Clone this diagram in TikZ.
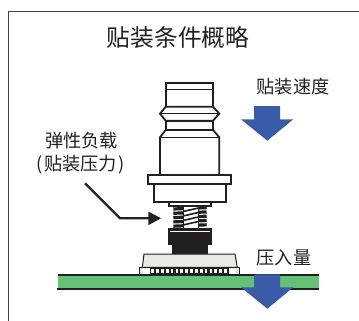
\documentclass[tikz,border=0pt]{standalone}
\usepackage{fontspec}
\newfontfamily\cjk{Noto Sans CJK SC}
\definecolor{pcbgreen}{HTML}{65C177}
\definecolor{bluearrow}{HTML}{3A5CA8}
\definecolor{chipgray}{HTML}{E8E9E3}
\definecolor{inkk}{HTML}{231F20}
\tikzset{
  lbl/.style={inner sep=0pt,text=inkk,font=\cjk\fontsize{18.2}{20}\selectfont},
  ttl/.style={inner sep=0pt,text=inkk,font=\cjk\fontsize{23.7}{26}\selectfont},
  noz/.style={draw=inkk,line width=1.8pt,fill=white,line join=miter},
  bluearr/.style={fill=bluearrow,draw=none},
  blk/.style={fill=inkk,draw=none},
}
\begin{document}
\begin{tikzpicture}[x=1pt,y=-1pt]
\useasboundingbox (0,0) rectangle (359,321);
% frame
\draw[line width=1.2pt,draw=inkk!85] (359,11.5) -- (8.3,11.5) -- (8.3,321);
% texts
\node[ttl] (title) at (178,38) {贴装条件概略};
\node[lbl] (speed) at (293,87) {贴装速度};
\node[lbl] (depth) at (284,258) {压入量};
\node[lbl] (load1) at (81.5,141) {弹性负载};
\node[lbl] (load2) at (80.5,165) {(\kern1.5pt 贴装压力\kern1.5pt )};
% pcb
\fill[pcbgreen] (58,275) rectangle (319,289);
\draw[line width=1.6pt,draw=inkk] (58,275) -- (319,275);
\draw[line width=1.4pt,draw=inkk] (57,289) -- (319,289);
% blue arrows
\fill[bluearr] (254,106) -- (280,106) -- (280,119.3) -- (293.3,119.3) -- (267.3,140.7) -- (241,119.3) -- (254,119.3) -- cycle;
\fill[bluearr] (254,274.3) -- (280,274.3) -- (280,287.3) -- (293.3,287.3) -- (267.3,308.7) -- (241,287.3) -- (254,287.3) -- cycle;
% nozzle upper
\draw[noz] (165.7,82.7) rectangle (213,106.7);
\draw[line width=1.5pt,draw=inkk] (165.7,89.3) -- (213,89.3);
\draw[noz] (165.7,106.7) -- (213,106.7) -- (219.3,113.7) -- (213,120.7) -- (165.7,120.7) -- (160,113.7) -- cycle;
\draw[line width=1.5pt,draw=inkk] (160,113.7) -- (219.3,113.7);
\draw[noz] (165.7,120.7) rectangle (213,130);
\draw[noz] (165.7,130) -- (213,130) -- (219.3,137.3) -- (219.3,175) -- (160,175) -- (160,137.3) -- cycle;
\draw[line width=1.5pt,draw=inkk] (160,137.3) -- (219.3,137.3);
\draw[noz] (153.7,184.3) rectangle (226,202);
\draw[noz] (148.3,175) rectangle (231,184.3);
\draw[noz] (168.7,202) rectangle (211,206);
% spring
\foreach \yy in {209,213.3,217.6,221.9,226.2}{
  \draw[line width=3.2pt,draw=inkk] (173.3,\yy) -- (206.7,\yy-1.4);
}
\fill[white] (183,207) rectangle (198,228);
\foreach \yy in {211.5,216,220.5,225}{
  \draw[line width=1.6pt,draw=inkk] (183,\yy) -- (198,\yy-3.4);
}
\draw[line width=1pt,draw=inkk] (183,206.5) -- (183,227.5);
\draw[line width=1pt,draw=inkk] (198,206.5) -- (198,227.5);
% clamp block
\fill[blk] (168.3,228.3) rectangle (211.7,245);
\fill[white] (170,230.7) rectangle (210,232.2);
\fill[blk] (172.3,245) rectangle (207.7,254.5);
% chip
\draw[line width=1pt,draw=inkk,fill=chipgray] (144,254) -- (235,254) -- (237.3,267.3) -- (142.3,267.3) -- cycle;
% leads
\draw[line width=1pt,draw=inkk,fill=chipgray] (139.5,267.5) rectangle (239.3,274.3);
\fill[white] (143,268.5) rectangle (236,273.5);
\fill[inkk] (150,267.5) rectangle (229,274.3);
\foreach \i in {0,...,15}{
  \fill[white] ({151.3+\i*4.85},269) rectangle ({154+\i*4.85},273.2);
}
% callout
\coordinate (calloutstart) at (85,183.3);
\coordinate (calloutelbow) at (120,218.3);
\coordinate (callouttip) at (161,218.3);
\draw[line width=2.2pt,draw=inkk,line join=miter] (calloutstart) -- (calloutelbow) -- (150,218.3);
\fill[inkk] (callouttip) -- (148.3,211.5) -- (148.3,225.2) -- cycle;
\end{tikzpicture}
\end{document}
